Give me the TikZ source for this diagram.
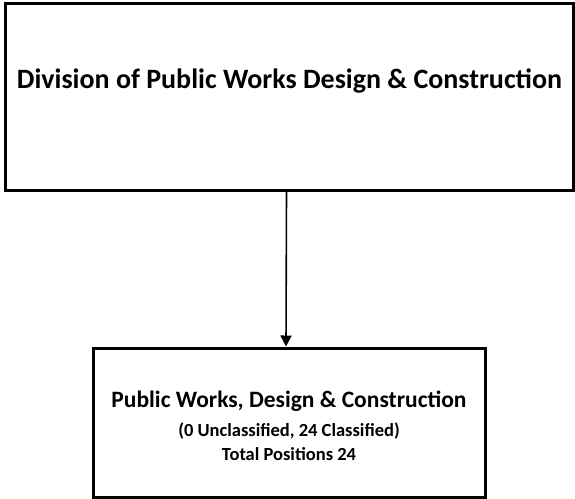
\documentclass[tikz,border=0pt]{standalone}
\usepackage{fontspec}
\setmainfont{Carlito}
\usepackage{tikz}
\usetikzlibrary{arrows.meta}
\usetikzlibrary{positioning}

\begin{document}
\begin{tikzpicture}[x=1pt, y=1pt,
    orgbox/.style = {draw, line width=3pt, inner sep=0pt},
    titletext/.style = {font=\fontsize{28}{32}\selectfont\bfseries},
    unittext/.style = {font=\fontsize{23.5}{28}\selectfont\bfseries, align=center}]
    \useasboundingbox (0,0) rectangle (575,-498);
    % division box, its title sits a bit above the middle
    \node[orgbox, minimum width=568pt, minimum height=187pt] (division) at (289.5,-96.5) {};
    \node[titletext, anchor=base] (divisiontitle) at ([yshift=8.5pt]division.center) {Division of Public Works Design \& Construction};
    % unit box and its three lines
    \node[orgbox, minimum width=392pt, minimum height=149pt] (unit) at (289,-422.5) {};
    \node[unittext] (unittitle) at ([yshift=-3pt]unit.center)
        {Public Works, Design \& Construction\\[1pt]
         {\fontsize{18.5}{18}\selectfont (0 Unclassified, 24 Classified)}\\[-4pt]
         {\fontsize{18.5}{18}\selectfont Total Positions 24}};
    \draw[line width=1.6pt, -{Triangle[length=11pt, width=11pt]}] ([xshift=-3pt]division.south) -- ([xshift=-3pt]unit.north);
\end{tikzpicture}
\end{document}
